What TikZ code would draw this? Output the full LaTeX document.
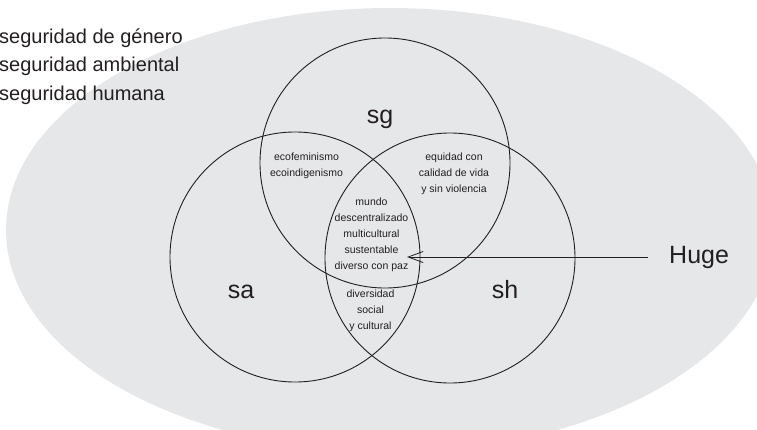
\documentclass[tikz,border=0pt]{standalone}
\usepackage{fontspec}
\setmainfont{Liberation Sans}
\usetikzlibrary{arrows.meta}
\definecolor{fondo}{RGB}{230,231,233}
\definecolor{tinta}{RGB}{35,31,32}

\begin{document}
\begin{tikzpicture}[x=1pt, y=-1pt,
    conjunto/.style={circle, draw=tinta, line width=0.9pt, minimum size=250pt, inner sep=0pt},
    sigla/.style={text=tinta, font=\fontsize{25}{30}\selectfont, anchor=base, inner sep=0pt},
    cruce/.style={text=tinta, font=\fontsize{10.5}{16}\selectfont, align=center, inner sep=0pt},
    leyenda/.style={text=tinta, font=\fontsize{20}{24}\selectfont, anchor=base west, inner sep=0pt}]
    \useasboundingbox (0,0) rectangle (757,429);
    \clip (0,0) rectangle (757,429);

    % Background
    \fill[fondo] (390,230) ellipse [x radius=384pt, y radius=222pt];

    % Legend
    \node[leyenda] (lsg) at (-1,43) {seguridad de género};
    \node[leyenda] (lsa) at (-1,71.5) {seguridad ambiental};
    \node[leyenda] (lsh) at (-1,100) {seguridad humana};

    % Sets
    \node[conjunto] (sg) at (385,163) {};
    \node[conjunto] (sa) at (295,257) {};
    \node[conjunto] (sh) at (450,258) {};
    \node[sigla] (tsg) at (380,123) {sg};
    \node[sigla] (tsa) at (241,298) {sa};
    \node[sigla] (tsh) at (505,298) {sh};

    % Intersections
    \node[cruce] (gya) at (306.5,165.3) {ecofeminismo\\ecoindigenismo};
    \node[cruce] (gyh) at (454,173.3) {equidad con\\calidad de vida\\y sin violencia};
    \node[cruce] (centro) at (371.5,234.3) {mundo\\descentralizado\\multicultural\\sustentable\\diverso con paz};
    \node[cruce] (ayh) at (370.5,311) {diversidad\\social\\y cultural};

    % Pointer
    \coordinate (tip) at (407,257);
    \node[sigla, anchor=west, inner xsep=21pt] (huge) at (648,257) {Huge};
    \draw[tinta, line width=0.8pt, -{Straight Barb[length=15pt,width=11pt]}] (huge.west) -- (tip);
\end{tikzpicture}
\end{document}
